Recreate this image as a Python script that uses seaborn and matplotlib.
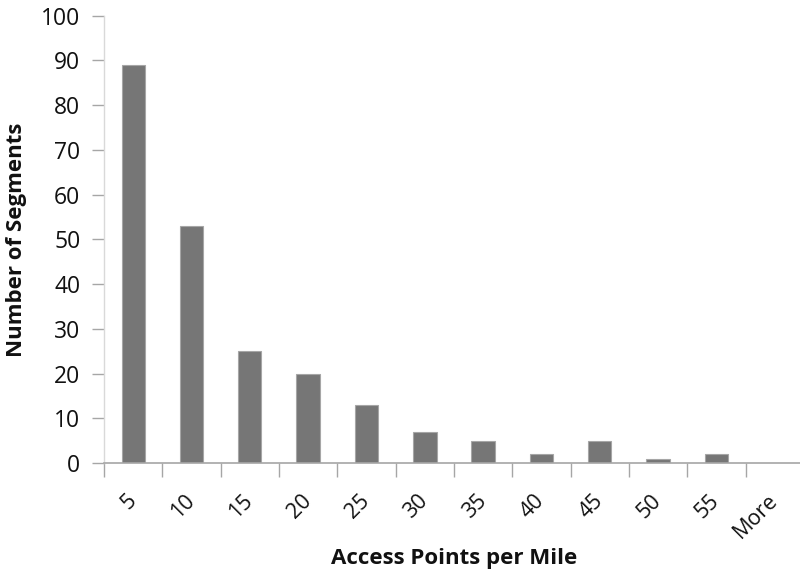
import matplotlib
matplotlib.use("Agg")
import matplotlib.pyplot as plt
import numpy as np
import pandas as pd
import seaborn as sns

# histogram bins and counts
bins = ["5", "10", "15", "20", "25", "30", "35", "40", "45", "50", "55", "More"]
counts = [89, 53, 25, 20, 13, 7, 5, 2, 5, 1, 2, 0]
y_ticks = list(range(0, 101, 10))

sns.set_theme(style="white")
plt.rcParams['font.family'] = ['Open Sans', 'DejaVu Sans']

df = pd.DataFrame({"bin": bins, "count": counts})

fig = plt.figure(figsize=(8, 5.81), dpi=100)
ax = fig.add_axes([0.13, 0.203, 0.875, 0.77])

sns.barplot(data=df, x="bin", y="count", order=bins, color="#767676",
            width=0.4, edgecolor="#a6a6a6", linewidth=0.8, saturation=1, ax=ax)

ax.set_ylim(0, 100)
ax.set_xlim(-0.5, len(bins) - 0.5)
ax.set_yticks(y_ticks)
ax.set_yticklabels([str(v) for v in y_ticks], fontsize=16.5, color="#111111")

# Excel-style: tick marks between the categories, labels under the bars
ax.set_xticks(np.arange(len(bins)))
ax.set_xticklabels(bins, rotation=45, fontsize=15.5, color="#111111",
                   ha="right", va="center", rotation_mode="anchor")
ax.set_xticks(np.arange(-0.5, len(bins) - 0.5, 1.0), minor=True)
ax.tick_params(axis="x", which="major", length=0, pad=25)
ax.tick_params(axis="x", which="minor", length=10, width=1, color="#a6a6a6",
               direction="out", bottom=True)
ax.tick_params(axis="y", which="major", length=9, width=1, color="#a6a6a6",
               direction="out", left=True, pad=8)

for side in ["top", "right"]:
    ax.spines[side].set_visible(False)
ax.spines["left"].set_color("#d9d9d9")
ax.spines["bottom"].set_color("#a6a6a6")
ax.spines["left"].set_linewidth(1)
ax.spines["bottom"].set_linewidth(1.2)

ax.set_xlabel("Access Points per Mile", fontsize=16, fontweight="bold",
              color="#111111", va="center")
ax.xaxis.set_label_coords(0.5, -0.213)
ax.set_ylabel("Number of Segments", fontsize=16, fontweight="bold",
              color="#111111", labelpad=10)

fig.savefig("out.png", dpi=100)
